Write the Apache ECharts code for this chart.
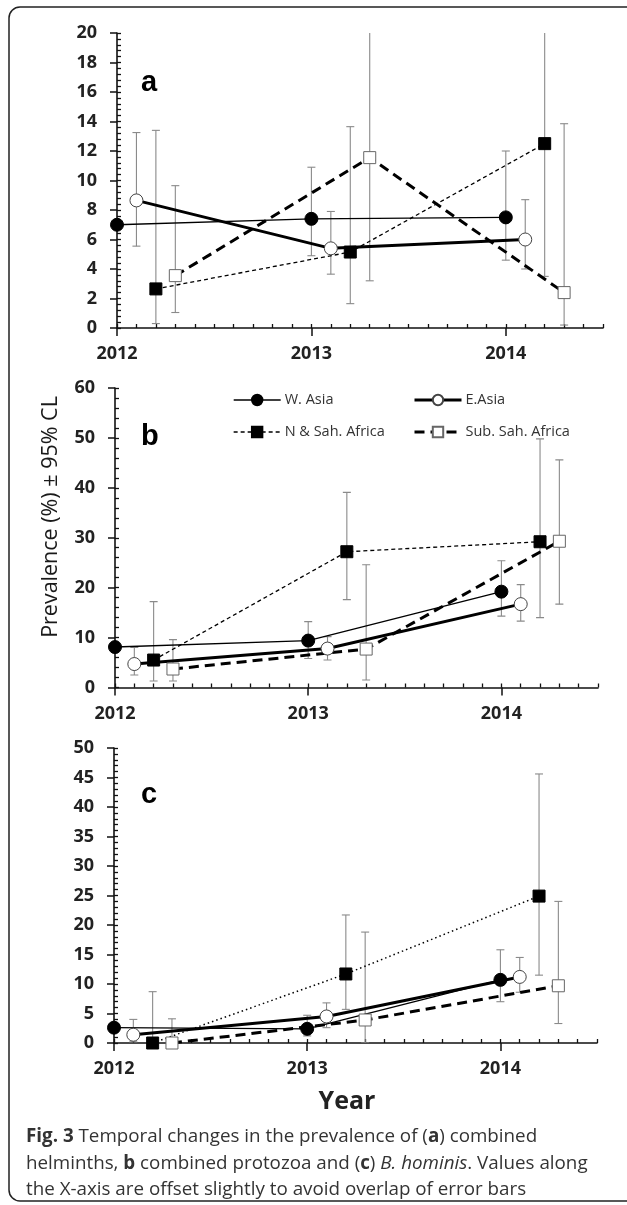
<!DOCTYPE html>
<html><head><meta charset="utf-8">
<script src="https://cdn.jsdelivr.net/npm/echarts@6/dist/echarts.min.js"></script>
<style>html,body{margin:0;padding:0;background:#fff}#c{width:627px;height:1205px}</style>
</head><body><div id="c"></div>
<script>
// ---------- DATA ----------
const years = [2012, 2013, 2014];
const xTickLabels = ['2012', '2013', '2014'];
const seriesNames = ['W. Asia', 'E.Asia', 'N & Sah. Africa', 'Sub. Sah. Africa'];
const xOffsets = [0, 0.1, 0.2, 0.3];

// Panel a: combined helminths
const aWAsia = [7.0, 7.4, 7.5];
const aWAsiaLow = [null, 4.9, 4.6];
const aWAsiaHigh = [null, 10.9, 12.0];
const aEAsia = [8.65, 5.4, 6.0];
const aEAsiaLow = [5.55, 3.65, 4.0];
const aEAsiaHigh = [13.25, 7.9, 8.7];
const aNAfrica = [2.65, 5.15, 12.5];
const aNAfricaLow = [0.3, 1.65, 3.5];
const aNAfricaHigh = [13.4, 13.65, 25.0];
const aSAfrica = [3.55, 11.55, 2.4];
const aSAfricaLow = [1.05, 3.2, 0.2];
const aSAfricaHigh = [9.65, 23.0, 13.85];
const aYTicks = [0, 20, 2, 0.4]; // min, max, major step, minor step

// Panel b: combined protozoa
const bWAsia = [8.1, 9.4, 19.2];
const bWAsiaLow = [null, 5.8, 14.3];
const bWAsiaHigh = [null, 13.2, 25.4];
const bEAsia = [4.7, 7.8, 16.7];
const bEAsiaLow = [2.5, 5.5, 13.3];
const bEAsiaHigh = [8.0, 10.2, 20.6];
const bNAfrica = [5.5, 27.2, 29.2];
const bNAfricaLow = [1.3, 17.6, 14.0];
const bNAfricaHigh = [17.2, 39.1, 49.8];
const bSAfrica = [3.7, 7.7, 29.3];
const bSAfricaLow = [1.3, 1.5, 16.7];
const bSAfricaHigh = [9.6, 24.6, 45.6];
const bYTicks = [0, 60, 10, 2];

// Panel c: B. hominis
const cWAsia = [2.6, 2.4, 10.7];
const cWAsiaLow = [null, 1.2, 7.0];
const cWAsiaHigh = [null, 4.7, 15.8];
const cEAsia = [1.4, 4.5, 11.2];
const cEAsiaLow = [0.2, 2.6, 8.6];
const cEAsiaHigh = [4.0, 6.8, 14.5];
const cNAfrica = [0, 11.7, 24.9];
const cNAfricaLow = [0, 5.7, 11.5];
const cNAfricaHigh = [8.7, 21.7, 45.6];
const cSAfrica = [0, 3.9, 9.7];
const cSAfricaLow = [0, 0, 3.3];
const cSAfricaHigh = [4.1, 18.8, 24.0];
const cYTicks = [0, 50, 5, 1];

// ---------- LAYOUT / STYLE ----------
const panels = [
  {vals:[aWAsia,aEAsia,aNAfrica,aSAfrica], lows:[aWAsiaLow,aEAsiaLow,aNAfricaLow,aSAfricaLow], highs:[aWAsiaHigh,aEAsiaHigh,aNAfricaHigh,aSAfricaHigh], y:aYTicks,
   grid:{left:117, top:33, width:486, height:295}, dotted:false},
  {vals:[bWAsia,bEAsia,bNAfrica,bSAfrica], lows:[bWAsiaLow,bEAsiaLow,bNAfricaLow,bSAfricaLow], highs:[bWAsiaHigh,bEAsiaHigh,bNAfricaHigh,bSAfricaHigh], y:bYTicks,
   grid:{left:115, top:388, width:483, height:299.5}, dotted:false},
  {vals:[cWAsia,cEAsia,cNAfrica,cSAfrica], lows:[cWAsiaLow,cEAsiaLow,cNAfricaLow,cSAfricaLow], highs:[cWAsiaHigh,cEAsiaHigh,cNAfricaHigh,cSAfricaHigh], y:cYTicks,
   grid:{left:114, top:748, width:483, height:295}, dotted:true}
];

const FONT = '"Open Sans", "Noto Sans", sans-serif';
const INK = '#111';
const styles = [
  {symbol:'circle', size:13, fill:'#000', border:'#000', bw:1, lw:1.4, type:'solid'},
  {symbol:'circle', size:13, fill:'#fff', border:'#444', bw:1, lw:3, type:'solid'},
  {symbol:'rect', size:12, fill:'#000', border:'#000', bw:1, lw:1.3, type:[4,3]},
  {symbol:'rect', size:12, fill:'#fff', border:'#666', bw:1, lw:3, type:[10,6]}
];

function renderErr(params, api) {
  const x = api.value(0), lo = api.value(1), hi = api.value(2);
  const pLo = api.coord([x, lo]), pHi = api.coord([x, hi]);
  const w = 4;
  const st = {stroke:'#8a8a8a', lineWidth:1.1, fill:null};
  return {type:'group', children:[
    {type:'line', shape:{x1:pLo[0], y1:pLo[1], x2:pHi[0], y2:pHi[1]}, style:st},
    {type:'line', shape:{x1:pLo[0]-w, y1:pLo[1], x2:pLo[0]+w, y2:pLo[1]}, style:st},
    {type:'line', shape:{x1:pHi[0]-w, y1:pHi[1], x2:pHi[0]+w, y2:pHi[1]}, style:st}
  ]};
}

const grids = [], xAxes = [], yAxes = [], series = [];
panels.forEach((p, gi) => {
  grids.push(Object.assign({containLabel:false}, p.grid));
  const [ymin, ymax, ystep, yminor] = p.y;
  xAxes.push({gridIndex:gi, type:'value', position:'bottom', min:years[0], max:2014.5, interval:1,
    axisLine:{show:true, onZero:false, lineStyle:{color:INK, width:1.6}},
    axisTick:{show:true, inside:false, length:8, customValues:years, lineStyle:{color:INK, width:1.5}},
    axisLabel:{show:true, customValues:years, margin:17, fontFamily:FONT, fontWeight:'bold', fontSize:18, color:'#222',
      formatter:(v)=>{const i = years.indexOf(Math.round(v*1000)/1000); return i>=0 ? xTickLabels[i] : '';}},
    splitLine:{show:false}});
  xAxes.push({gridIndex:gi, type:'value', position:'bottom', min:years[0], max:2014.5, interval:0.1,
    axisLine:{show:false}, axisTick:{show:true, inside:true, length:4, lineStyle:{color:INK, width:1.3}},
    axisLabel:{show:false}, splitLine:{show:false}});
  yAxes.push({gridIndex:gi, type:'value', position:'left', min:ymin, max:ymax, interval:ystep,
    axisLine:{show:true, onZero:false, lineStyle:{color:INK, width:1.6}},
    axisTick:{show:true, inside:false, length:7, lineStyle:{color:INK, width:1.5}},
    axisLabel:{margin:20, fontFamily:FONT, fontWeight:'bold', fontSize:18, color:'#222'},
    splitLine:{show:false}});
  yAxes.push({gridIndex:gi, type:'value', position:'left', min:ymin, max:ymax, interval:yminor,
    axisLine:{show:false}, axisTick:{show:true, inside:true, length:4, lineStyle:{color:INK, width:1.3}},
    axisLabel:{show:false}, splitLine:{show:false}});

  // error bars
  seriesNames.forEach((name, si) => {
    const d = [];
    years.forEach((yr, i) => {
      if (p.lows[si][i] != null && p.highs[si][i] != null) d.push([yr + xOffsets[si], p.lows[si][i], p.highs[si][i]]);
    });
    series.push({type:'custom', name:name+' CL', xAxisIndex:gi*2, yAxisIndex:gi*2, renderItem:renderErr,
      encode:{x:0, y:[1,2]}, data:d, clip:true, z:1, silent:true});
  });
  // lines
  seriesNames.forEach((name, si) => {
    const s = styles[si];
    const lineType = (p.dotted && si === 2) ? [1.5, 3] : s.type;
    series.push({type:'line', name:name, xAxisIndex:gi*2, yAxisIndex:gi*2,
      data: years.map((yr, i) => [yr + xOffsets[si], p.vals[si][i]]),
      symbol:s.symbol, symbolSize:s.size, showSymbol:true, clip:false, z:3, animation:false,
      lineStyle:{color:'#000', width:(p.dotted && si===2)?1.5:s.lw, type:lineType},
      itemStyle:{color:s.fill, borderColor:s.border, borderWidth:s.bw}});
  });
});

const legendPos = [[233, 399], [413, 399], [233, 431], [413, 431]];
const legends = seriesNames.map((name, i) => ({
  data:[name], left:legendPos[i][0], top:legendPos[i][1]-6.5, padding:0, itemWidth:47, itemHeight:13,
  selectedMode:false,
  lineStyle:{color:'#000', width:styles[i].lw, type:styles[i].type},
  textStyle:{fontFamily:FONT, fontSize:14.5, color:'#333', padding:[0,0,0,-1]}
}));

const CAPFS = 18.8;
const rich = {
  n:{fontFamily:FONT, fontSize:CAPFS, color:'#333'},
  b:{fontFamily:FONT, fontSize:CAPFS, fontWeight:'bold', color:'#222'},
  i:{fontFamily:FONT, fontSize:CAPFS, fontStyle:'italic', color:'#333'}
};
function capText(txt, y) {
  return {type:'text', x:26, y:y, silent:true,
    style:{text:txt, rich:rich, fontFamily:FONT, fontSize:CAPFS, fill:'#333', verticalAlign:'middle', align:'left'}};
}

const option = {
  animation:false,
  backgroundColor:'#fff',
  grid:grids, xAxis:xAxes, yAxis:yAxes, series:series, legend:legends,
  graphic:[
    {type:'rect', shape:{x:9, y:7, width:640, height:1194, r:11}, style:{fill:'none', stroke:'#222', lineWidth:1.5}, silent:true, z:-1},
    {type:'text', x:141, y:68, style:{text:'a', fontFamily:'"Liberation Sans", Arial, sans-serif', fontWeight:'bold', fontSize:29, fill:'#000', textBaseline:'alphabetic'}},
    {type:'text', x:141, y:422, style:{text:'b', fontFamily:'"Liberation Sans", Arial, sans-serif', fontWeight:'bold', fontSize:29, fill:'#000', textBaseline:'alphabetic'}},
    {type:'text', x:141, y:780, style:{text:'c', fontFamily:'"Liberation Sans", Arial, sans-serif', fontWeight:'bold', fontSize:29, fill:'#000', textBaseline:'alphabetic'}},
    {type:'text', x:51, y:517, rotation:Math.PI/2, style:{text:'Prevalence (%) ± 95% CL', fontFamily:FONT, fontSize:21.5, fill:'#1a1a1a', align:'center', verticalAlign:'middle'}},
    {type:'text', x:347, y:1102, style:{text:'Year', fontFamily:FONT, fontWeight:'bold', fontSize:25, fill:'#222', align:'center', verticalAlign:'middle'}},
    capText('{b|Fig. 3}{n| Temporal changes in the prevalence of (}{b|a}{n|) combined}', 1137),
    capText('{n|helminths, }{b|b}{n| combined protozoa and (}{b|c}{n|) }{i|B. hominis}{n|. Values along}', 1164),
    capText('{n|the X-axis are offset slightly to avoid overlap of error bars}', 1190)
  ]
};

const chart = echarts.init(document.getElementById('c'), null, {renderer:'canvas'});
chart.setOption(option);
</script>
</body></html>
